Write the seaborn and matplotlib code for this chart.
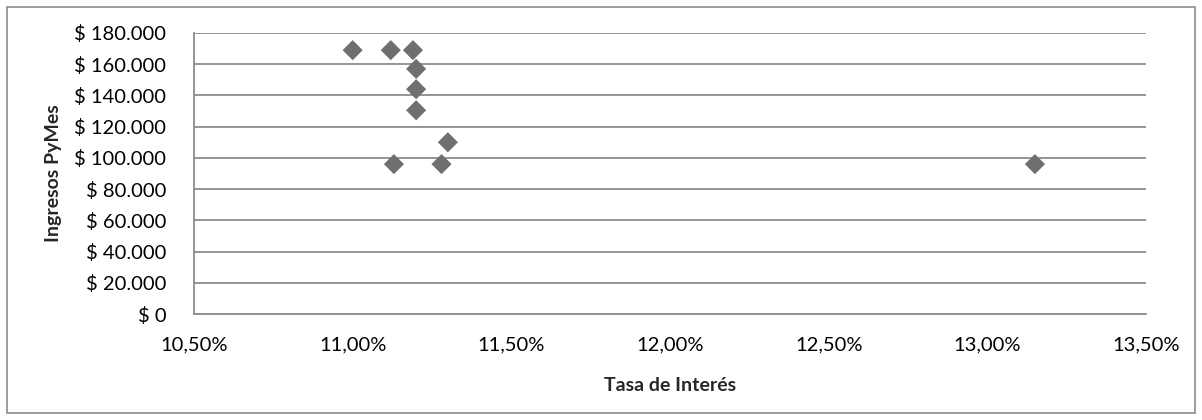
import matplotlib
matplotlib.use("Agg")
import matplotlib.pyplot as plt
import matplotlib.ticker as mticker
from matplotlib.patches import Rectangle
import seaborn as sns
import pandas as pd

# Interest rate (%) and monthly SME revenue
tasa_interes = [11.00, 11.12, 11.19, 11.20, 11.20, 11.20, 11.30, 11.13, 11.28, 13.15]
ingresos = [169000, 169000, 169000, 157000, 144000, 130500, 110000, 96000, 96000, 96000]

df = pd.DataFrame({"Tasa de Interés": tasa_interes, "Ingresos PyMes": ingresos})

sns.set_theme(style="white")
plt.rcParams["font.family"] = ["Lato", "DejaVu Sans"]

fig = plt.figure(figsize=(12.02, 4.2), dpi=100)
ax = fig.add_axes([194 / 1202, 1 - 314 / 420, (1146 - 194) / 1202, (314 - 33) / 420])

sns.scatterplot(data=df, x="Tasa de Interés", y="Ingresos PyMes", ax=ax,
                marker="D", s=105, color="#6f6f6f", edgecolor="none", zorder=3)

ax.set_xlim(10.5, 13.5)
ax.set_ylim(0, 180000)
ax.set_xticks([10.5, 11.0, 11.5, 12.0, 12.5, 13.0, 13.5])
ax.set_yticks(range(0, 180001, 20000))

def fmt_pct(v, _):
    return f"{v:.2f}".replace(".", ",") + "%"

def fmt_money(v, _):
    if v == 0:
        return "$ 0"
    return "$ " + f"{int(v):,}".replace(",", ".")

ax.xaxis.set_major_formatter(mticker.FuncFormatter(fmt_pct))
ax.yaxis.set_major_formatter(mticker.FuncFormatter(fmt_money))

ax.grid(axis="y", color="#8c8c8c", linewidth=1.3)
ax.grid(axis="x", visible=False)
ax.set_axisbelow(True)
for side in ("top", "right"):
    ax.spines[side].set_visible(False)
for side in ("left", "bottom"):
    ax.spines[side].set_color("#8c8c8c")
    ax.spines[side].set_linewidth(1.3)

ax.tick_params(axis="both", length=0, labelsize=14.5, colors="#000000")
ax.tick_params(axis="x", pad=16)
ax.tick_params(axis="y", pad=20)

ax.set_xlabel("Tasa de Interés", fontsize=14, fontweight="bold", labelpad=17)
ax.set_ylabel("Ingresos PyMes", fontsize=14, fontweight="bold", labelpad=9)

# Outer chart frame
fig.patches.append(Rectangle((7 / 1202, 7 / 420), 1 - 14 / 1202, 1 - 14 / 420,
                             transform=fig.transFigure, fill=False,
                             edgecolor="#8c8c8c", linewidth=1.2))

fig.savefig("out.png", dpi=100, facecolor="white")
